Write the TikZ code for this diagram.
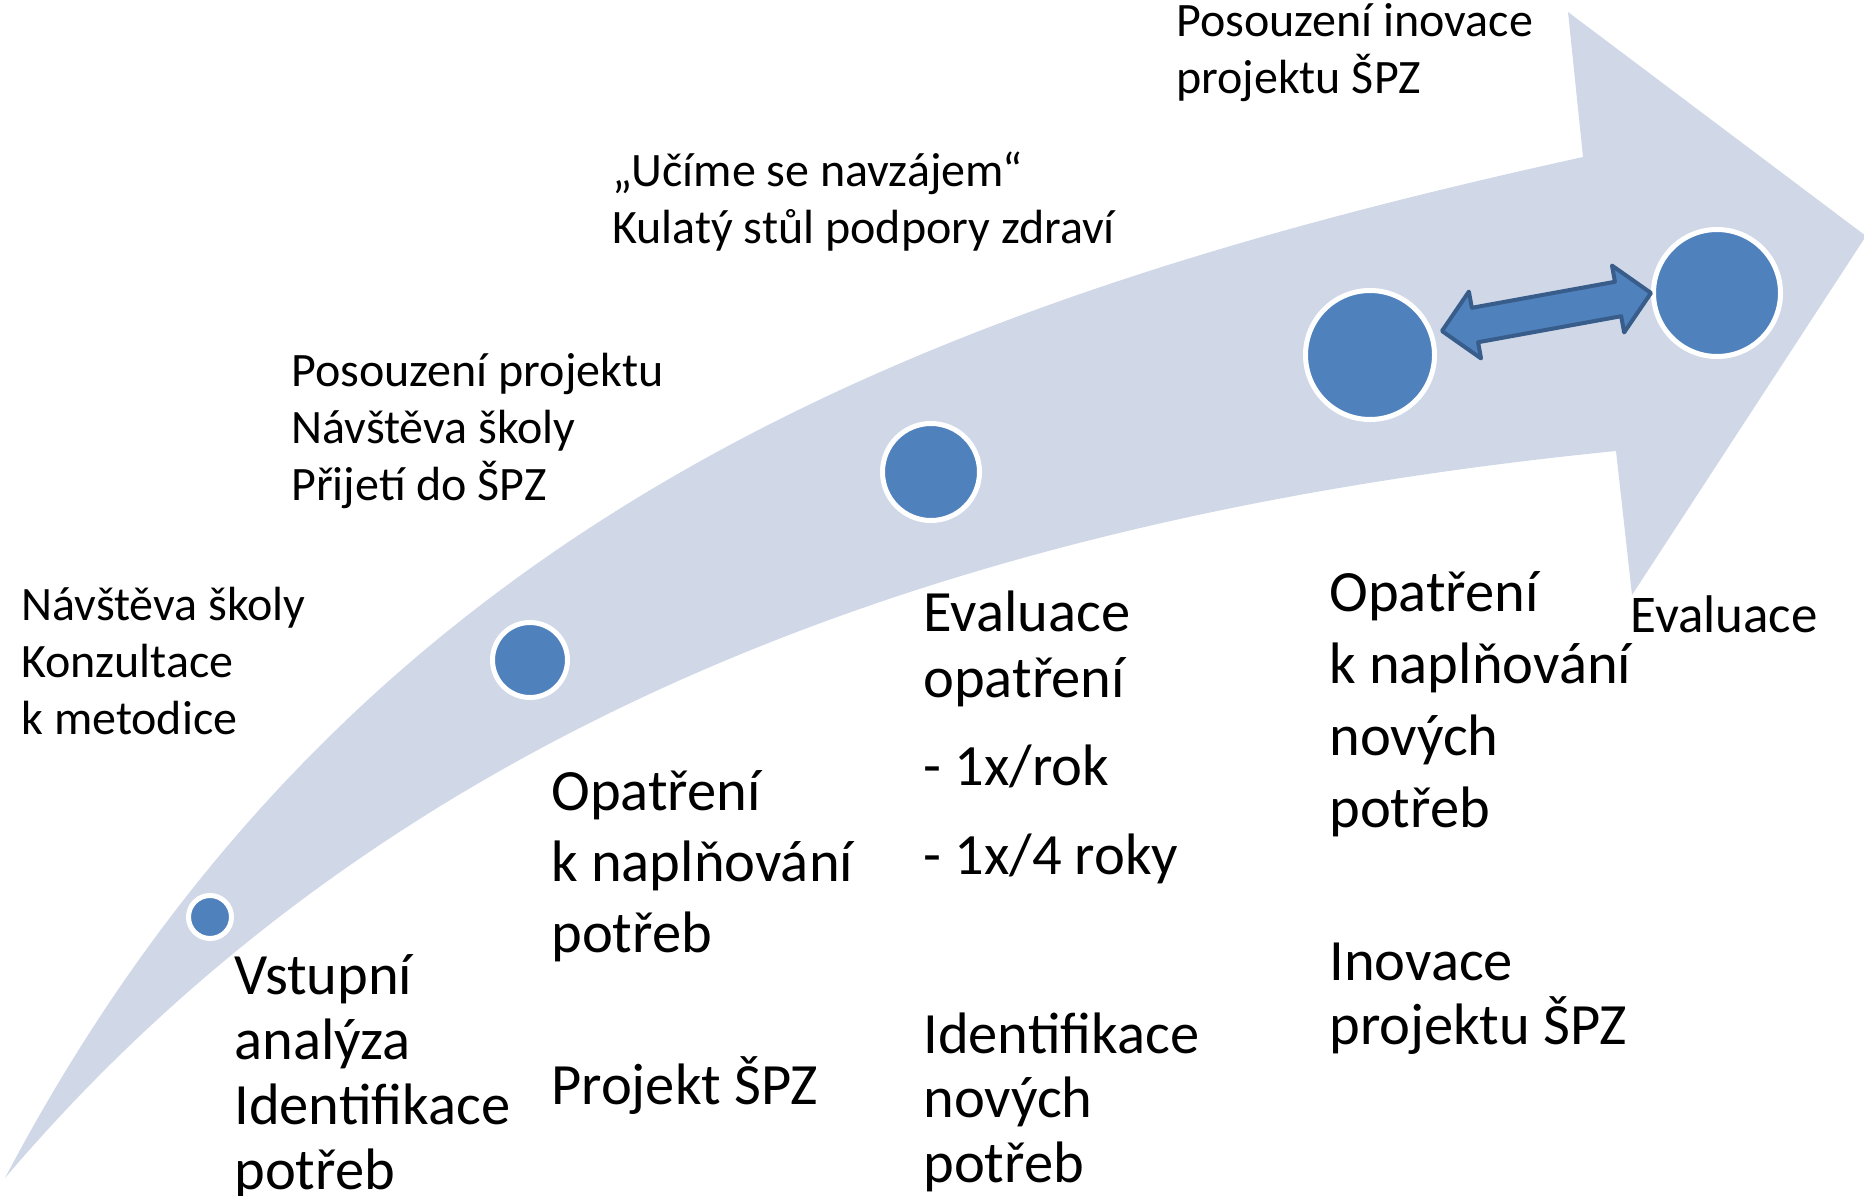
\documentclass[tikz,border=0pt]{standalone}
\usepackage{fontspec}
\setmainfont{Carlito}
\usetikzlibrary{calc}
\definecolor{bandgray}{RGB}{208,216,232}
\definecolor{dotblue}{RGB}{79,129,189}
\definecolor{linkedge}{RGB}{56,93,138}
\tikzset{every picture/.style={line width=0.75pt}}

\begin{document}
\begin{tikzpicture}[x=1pt,y=1pt,yscale=-1,
  dot/.style={circle, fill=dotblue, draw=white, line width=5pt, inner sep=0pt},
  link/.style={fill=dotblue, draw=linkedge, line width=4pt, line join=round},
  small/.style={anchor=base west, inner sep=0pt, align=left, font=\fontsize{48}{57}\selectfont},
  big/.style={anchor=base west, inner sep=0pt, align=left, font=\fontsize{58.5}{71}\selectfont}]
\useasboundingbox (0,0) rectangle (1864,1196);

%Shape: Curved Up Arrow [id:band]
\fill [bandgray] (5,1178) .. controls (355,513) and (933,300) .. (1583,157) -- (1568,12) -- (1866,236) -- (1632,595) -- (1616,451) .. controls (1016,511) and (420,690) .. (5,1178) -- cycle ;

%Shape: Circle [id:c1..c5]
\node [dot, minimum size=43pt] (c1) at (210,917) {};
\node [dot, minimum size=75pt] (c2) at (530,660) {};
\node [dot, minimum size=97pt] (c3) at (931,472) {};
\node [dot, minimum size=129pt] (c4) at (1370,355) {};
\node [dot, minimum size=127pt] (c5) at (1717,293) {};

%Left-Right Arrow [id:link]
\coordinate (dl) at ($(c4)+(72,-24)$);
\coordinate (dr) at (c5.west);
\draw [link] (dl) -- ($(dl)!33.5pt!(dr)!34pt!90:(dr)$) -- ($(dl)!33.5pt!(dr)!17.5pt!90:(dr)$) -- ($(dr)!33.5pt!(dl)!17.5pt!-90:(dl)$) -- ($(dr)!33.5pt!(dl)!34pt!-90:(dl)$) -- (dr) -- ($(dr)!33.5pt!(dl)!34pt!90:(dl)$) -- ($(dr)!33.5pt!(dl)!17.5pt!90:(dl)$) -- ($(dl)!33.5pt!(dr)!17.5pt!-90:(dr)$) -- ($(dl)!33.5pt!(dr)!34pt!-90:(dr)$) -- cycle ;

% Text Node (anchor = baseline of last line)
\node [small] (visit) at (21,734) {Návštěva školy\\Konzultace\\k metodice};
% Text Node
\node [small] (assess) at (291,500) {Posouzení projektu\\Návštěva školy\\Přijetí do ŠPZ};
% Text Node
\node [small] (learn) at (612,243) {„Učíme se navzájem“\\Kulatý stůl podpory zdraví};
% Text Node
\node [small] (review) at (1176,94) {Posouzení inovace\\projektu ŠPZ};

% Text Node
\node [big, font=\fontsize{58.5}{65}\selectfont] (entry) at (234,1189) {Vstupní\\analýza\\Identifikace\\potřeb};
% Text Node
\node [big] (measures) at (551,952) {Opatření\\k naplňování\\potřeb};
% Text Node
\node [big] (project) at (551,1104) {Projekt ŠPZ};
% Text Node
\node [big, font=\fontsize{58.5}{66}\selectfont] (evalm) at (923,697) {Evaluace\\opatření};
% Text Node
\node [big] (yearly) at (923,785) {- 1x/rok};
% Text Node
\node [big] (fouryears) at (923,874) {- 1x/4 roky};
% Text Node
\node [big, font=\fontsize{58.5}{64.5}\selectfont] (identify) at (923,1182) {Identifikace\\nových\\potřeb};
% Text Node
\node [big, font=\fontsize{58.5}{72}\selectfont] (newmeas) at (1329,827) {Opatření\\k naplňování\\nových\\potřeb};
% Text Node
\node [big, font=\fontsize{58.5}{64}\selectfont] (innovate) at (1329,1044) {Inovace\\projektu ŠPZ};
% Text Node
\node [anchor=base west, inner sep=0pt, font=\fontsize{53}{60}\selectfont] (evalr) at (1630,632) {Evaluace};

\end{tikzpicture}
\end{document}
